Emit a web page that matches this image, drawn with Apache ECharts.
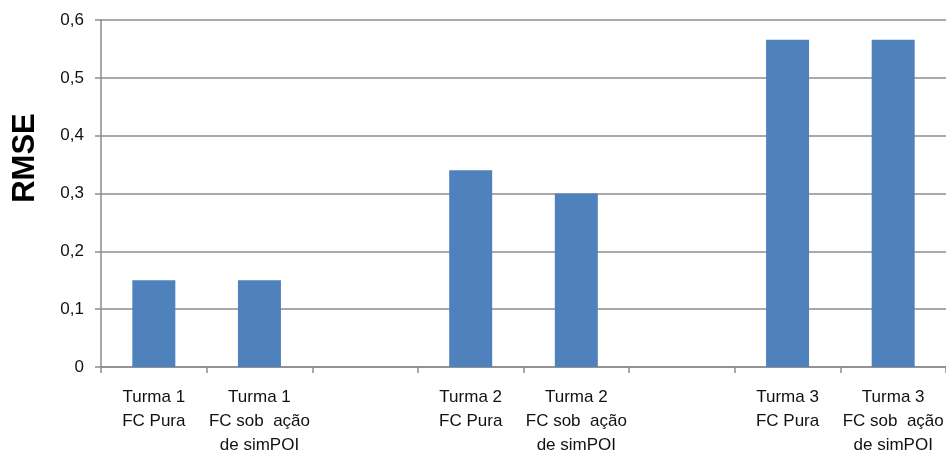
<!DOCTYPE html>
<html>
<head>
<meta charset="utf-8">
<script src="https://cdn.jsdelivr.net/npm/echarts@6/dist/echarts.min.js"></script>
<style>
  html, body { margin: 0; padding: 0; background: #ffffff; }
  #chart { width: 946px; height: 452px; }
</style>
</head>
<body>
<div id="chart"></div>
<script>
// Category slots: two bars per class, with an empty slot between classes
const categories = [
  'Turma 1\nFC Pura',
  'Turma 1\nFC sob  ação\nde simPOI',
  '',
  'Turma 2\nFC Pura',
  'Turma 2\nFC sob  ação\nde simPOI',
  '',
  'Turma 3\nFC Pura',
  'Turma 3\nFC sob  ação\nde simPOI'
];
const rmseValues = [0.15, 0.15, null, 0.34, 0.30, null, 0.566, 0.566];
const yMin = 0;
const yMax = 0.6;
const yStep = 0.1;
const yTitle = 'RMSE';

const chart = echarts.init(document.getElementById('chart'), null, { renderer: 'canvas' });
const font = '"Liberation Sans", Arial, sans-serif';

chart.setOption({
  animation: false,
  backgroundColor: '#ffffff',
  grid: { left: 101, right: 0, top: 20, bottom: 85, containLabel: false, outerBoundsMode: 'none' },
  // vertical axis title, placed a little above the plot's middle
  graphic: [{
    type: 'text',
    x: 25,
    y: 158,
    rotation: Math.PI / 2,
    style: {
      text: yTitle,
      fill: '#000000',
      font: 'bold 31px ' + font,
      align: 'center',
      verticalAlign: 'middle'
    }
  }],
  xAxis: {
    type: 'category',
    data: categories,
    boundaryGap: true,
    axisLine: { show: true, lineStyle: { color: '#8c8c8c', width: 1.5 } },
    axisTick: { show: true, alignWithLabel: false, length: 6, lineStyle: { color: '#8c8c8c', width: 1.5 } },
    axisLabel: {
      interval: 0,
      margin: 18,
      color: '#111111',
      fontFamily: font,
      fontSize: 17,
      lineHeight: 24
    },
    splitLine: { show: false }
  },
  yAxis: {
    type: 'value',
    min: yMin,
    max: yMax,
    interval: yStep,
    axisLine: { show: true, lineStyle: { color: '#8c8c8c', width: 1.5 } },
    axisTick: { show: true, length: 6, lineStyle: { color: '#8c8c8c', width: 1.5 } },
    axisLabel: {
      margin: 17,
      color: '#111111',
      fontFamily: font,
      fontSize: 17,
      formatter: v => (v === 0 ? '0' : v.toFixed(1).replace('.', ','))
    },
    splitLine: { show: true, lineStyle: { color: '#8c8c8c', width: 1.5 } }
  },
  series: [{
    type: 'bar',
    data: rmseValues,
    barWidth: 43,
    itemStyle: { color: '#4f81bd' }
  }]
});
</script>
</body>
</html>
